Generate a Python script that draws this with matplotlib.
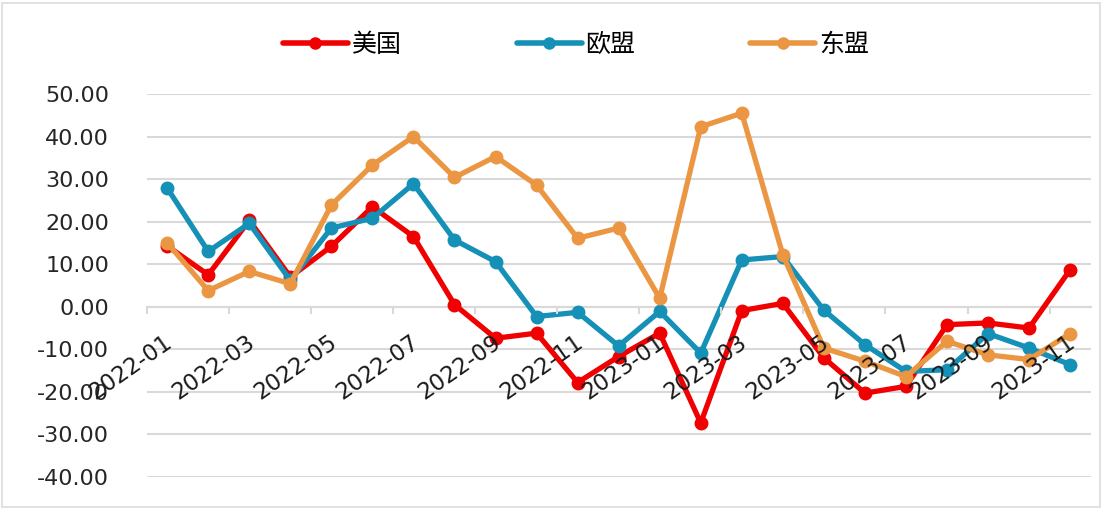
import matplotlib
matplotlib.use("Agg")
import matplotlib.pyplot as plt
from matplotlib.transforms import ScaledTranslation
from matplotlib.patches import Rectangle
import numpy as np

months = ["2022-01", "2022-02", "2022-03", "2022-04", "2022-05", "2022-06",
          "2022-07", "2022-08", "2022-09", "2022-10", "2022-11", "2022-12",
          "2023-01", "2023-02", "2023-03", "2023-04", "2023-05", "2023-06",
          "2023-07", "2023-08", "2023-09", "2023-10", "2023-11"]
us = [14.3, 7.5, 20.3, 7.0, 14.2, 23.5, 16.5, 0.5, -7.4, -6.2, -17.8, -11.7,
      -6.2, -27.3, -0.9, 0.8, -12.0, -20.3, -18.7, -4.2, -3.8, -5.0, 8.7]
eu = [27.9, 13.0, 19.6, 6.2, 18.5, 20.8, 28.9, 15.7, 10.6, -2.3, -1.3, -9.2,
      -1.1, -10.9, 11.0, 11.8, -0.8, -8.9, -15.2, -14.8, -6.3, -9.7, -13.6]
asean = [15.0, 3.8, 8.3, 5.4, 23.9, 33.3, 40.0, 30.4, 35.3, 28.6, 16.1, 18.5,
         2.0, 42.3, 45.5, 12.2, -9.7, -12.8, -16.4, -8.1, -11.3, -12.4, -6.3]
series_names = ["美国", "欧盟", "东盟"]
colors = ["#F00000", "#1590B6", "#EB9642"]
yticks = [-40, -30, -20, -10, 0, 10, 20, 30, 40, 50]

plt.rcParams['font.family'] = ['DejaVu Sans', 'Noto Sans CJK SC']

fig = plt.figure(figsize=(11.02, 5.12), dpi=100)
fig.patch.set_facecolor("white")
fig.patches.append(Rectangle((0.002, 0.01), 0.996, 0.985, transform=fig.transFigure,
                             fill=False, edgecolor="#dcdcdc", linewidth=1.2))

ax = fig.add_axes([0.1331, 0.0684, 0.8566, 0.748])
x = np.arange(len(months))

for vals, name, c in zip([us, eu, asean], series_names, colors):
    ax.plot(x, vals, color=c, linewidth=3.8, marker="o", markersize=9,
            label=name, solid_joinstyle="round", solid_capstyle="round", zorder=2)

ax.set_xlim(-0.5, len(months) - 0.5)
ax.set_ylim(-40, 50)
ax.set_yticks(yticks)
ax.set_yticklabels([f"{v:.2f}" for v in yticks], fontsize=16, color="#262626")
ax.tick_params(axis="y", length=0, pad=27)
ax.yaxis.grid(True, color="#d9d9d9", linewidth=1.5)
ax.set_axisbelow(True)
ax.xaxis.set_zorder(3)

for s in ["top", "right", "left"]:
    ax.spines[s].set_visible(False)
ax.spines["bottom"].set_position(("data", 0))
ax.spines["bottom"].set_color("#d9d9d9")
ax.spines["bottom"].set_linewidth(1.5)
ax.spines["bottom"].set_zorder(0.6)

label_pos = x[::2]
ax.set_xticks(label_pos)
ax.set_xticklabels([months[i] for i in label_pos], fontsize=16.5, color="#1a1a1a",
                   rotation=35, ha="right", va="center", rotation_mode="anchor")
ax.tick_params(axis="x", which="major", length=0, pad=24)
ax.set_xticks(np.arange(-0.5, len(months) - 0.5, 2), minor=True)
ax.tick_params(axis="x", which="minor", length=5, width=1.5, color="#d9d9d9")
off = ScaledTranslation(3 / 100, 0, fig.dpi_scale_trans)
for lab in ax.get_xticklabels():
    lab.set_transform(lab.get_transform() + off)

leg = fig.legend(loc="center", bbox_to_anchor=(576 / 1102, 1 - 45 / 512), ncol=3,
                 frameon=False, handlelength=2.6, columnspacing=4.6, handletextpad=0.15,
                 prop={"family": ["Noto Sans CJK SC"], "size": 18})
for h in leg.legend_handles:
    h.set_markersize(8)
    h.set_linewidth(4)

fig.savefig("out.png", dpi=100, facecolor="white")
